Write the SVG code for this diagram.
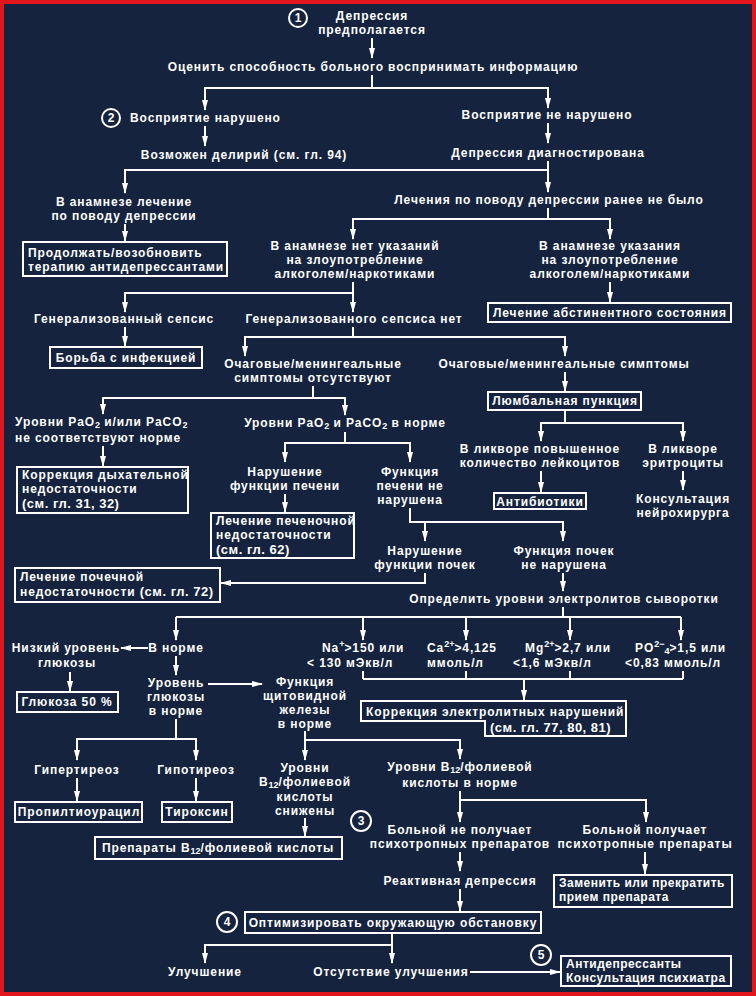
<svg xmlns="http://www.w3.org/2000/svg" width="756" height="996" viewBox="0 0 756 996">
<defs>
<marker id="ah" viewBox="0 -3 11 6" refX="10" refY="0" markerWidth="11" markerHeight="6" markerUnits="userSpaceOnUse" orient="auto"><path d="M0,-3 L11,0 L0,3 Z" fill="#fff"/></marker>
<style>
text{font-family:"Liberation Sans",Arial,sans-serif;font-weight:bold;font-size:12px;letter-spacing:0.9px;fill:#fff}
.m{text-anchor:middle}
.t{letter-spacing:0.5px}
.big{font-size:13px;letter-spacing:0.5px}
.s{font-size:9px;letter-spacing:0}
.c{font-size:12px;text-anchor:middle;letter-spacing:0}
rect,polygon{fill:#15233f;stroke:#fff;stroke-width:2}
circle{fill:none;stroke:#fff;stroke-width:2}
#connectors path{fill:none;stroke:#fff;stroke-width:2}
.a{marker-end:url(#ah)}
</style>
</defs>
<rect x="2" y="2" width="752" height="992" style="fill:#15233f;stroke:#e3161e;stroke-width:4"/>

<g id="connectors">
<path class="a" d="M372,38 V58"/>
<path class="a" d="M372,75 V88 H205 V110"/>
<path class="a" d="M372,88 H548 V108"/>
<path class="a" d="M205,126 V146"/>
<path class="a" d="M548,123 V143"/>
<path class="a" d="M548,161 V170 H125 V193"/>
<path class="a" d="M548,170 V192"/>
<path class="a" d="M125,224 V241"/>
<path class="a" d="M548,208 V219 H353 V239"/>
<path class="a" d="M548,219 H610 V239"/>
<path class="a" d="M610,282 V302"/>
<path class="a" d="M353,282 V293 H125 V312"/>
<path class="a" d="M353,293 V312"/>
<path class="a" d="M125,327 V346"/>
<path class="a" d="M353,327 V337 H245 V356"/>
<path class="a" d="M353,337 H565 V356"/>
<path class="a" d="M565,372 V391"/>
<path class="a" d="M565,410 V423 H541 V441"/>
<path class="a" d="M565,423 H683 V441"/>
<path class="a" d="M541,471 V492"/>
<path class="a" d="M683,471 V490"/>
<path class="a" d="M313,386 V398 H103 V414"/>
<path class="a" d="M313,398 H345 V415"/>
<path class="a" d="M103,446 V466"/>
<path class="a" d="M345,432 V443 H285 V462"/>
<path class="a" d="M345,443 H410 V462"/>
<path class="a" d="M285,494 V512"/>
<path class="a" d="M410,508 V522 H563 V541"/>
<path class="a" d="M425,522 V541"/>
<path class="a" d="M425,573 V583 H221"/>
<path class="a" d="M563,573 V591"/>
<path d="M563,607 V617"/>
<path d="M176,617 H681"/>
<path class="a" d="M176,617 V640"/>
<path class="a" d="M363,617 V640"/>
<path class="a" d="M466,617 V640"/>
<path class="a" d="M570,617 V640"/>
<path class="a" d="M681,617 V640"/>
<path class="a" d="M148,648 H121"/>
<path d="M363,671 V679 M466,671 V679 M570,671 V679 M683,671 V679 M363,679 H683"/>
<path class="a" d="M524,679 V700"/>
<path class="a" d="M176,656 V675"/>
<path class="a" d="M208,684 H262"/>
<path class="a" d="M70,672 V691"/>
<path class="a" d="M176,719 V739 H77 V760"/>
<path class="a" d="M176,739 H196 V760"/>
<path class="a" d="M77,778 V801"/>
<path class="a" d="M196,778 V801"/>
<path class="a" d="M305,731 V740 H460 V759"/>
<path class="a" d="M305,740 V760"/>
<path class="a" d="M305,818 V836"/>
<path class="a" d="M460,791 V800 H646 V822"/>
<path class="a" d="M460,800 V822"/>
<path class="a" d="M460,852 V871"/>
<path class="a" d="M460,889 V911"/>
<path class="a" d="M645,852 V874"/>
<path class="a" d="M392,933 V945 H205 V963"/>
<path class="a" d="M392,945 V963"/>
<path class="a" d="M470,972 H560"/>
</g>

<g id="n1"><circle cx="298" cy="18" r="9"/><text class="c" x="298" y="22">1</text>
<text class="m" x="372" y="20">Депрессия</text><text class="m" x="372" y="34">предполагается</text></g>
<g id="n2"><text class="m" x="373" y="71">Оценить способность больного воспринимать информацию</text></g>
<g id="n3"><circle cx="111" cy="118" r="9"/><text class="c" x="111" y="122">2</text>
<text x="130" y="122">Восприятие нарушено</text></g>
<g id="n4"><text class="m" x="547" y="119">Восприятие не нарушено</text></g>
<g id="n5"><text class="m" x="244" y="159">Возможен делирий (см. гл. 94)</text></g>
<g id="n6"><text class="m" x="548" y="157">Депрессия диагностирована</text></g>
<g id="n7"><text class="m" x="124" y="206">В анамнезе лечение</text><text class="m" x="124" y="220">по поводу депрессии</text></g>
<g id="n8"><text class="m" x="549" y="204">Лечения по поводу депрессии ранее не было</text></g>
<g id="b1"><rect x="23" y="242" width="204" height="34"/><text x="28" y="257">Продолжать/возобновить</text><text x="28" y="271">терапию антидепрессантами</text></g>
<g id="n9"><text class="m" x="355" y="250">В анамнезе нет указаний</text><text class="m" x="355" y="264">на злоупотребление</text><text class="m" x="355" y="278">алкоголем/наркотиками</text></g>
<g id="n10"><text class="m" x="610" y="250">В анамнезе указания</text><text class="m" x="610" y="264">на злоупотребление</text><text class="m" x="610" y="278">алкоголем/наркотиками</text></g>
<g id="b2"><rect x="488" y="303" width="243" height="19"/><text class="m" x="610" y="317">Лечение абстинентного состояния</text></g>
<g id="n11"><text class="m" x="124" y="323">Генерализованный сепсис</text></g>
<g id="n12"><text class="m" x="354" y="323">Генерализованного сепсиса нет</text></g>
<g id="b3"><rect x="50" y="347" width="152" height="21"/><text class="m" x="126" y="362">Борьба с инфекцией</text></g>
<g id="n13"><text class="m" x="313" y="368">Очаговые/менингеальные</text><text class="m" x="313" y="382">симптомы отсутствуют</text></g>
<g id="n14"><text class="m" x="564" y="368">Очаговые/менингеальные симптомы</text></g>
<g id="b4"><rect x="488" y="392" width="153" height="18"/><text class="m" x="565" y="405">Люмбальная пункция</text></g>
<g id="n15"><text class="m" x="540" y="453">В ликворе повышенное</text><text class="m" x="540" y="467">количество лейкоцитов</text></g>
<g id="n16"><text class="m" x="683" y="453">В ликворе</text><text class="m" x="683" y="467">эритроциты</text></g>
<g id="b5"><rect x="494" y="493" width="92" height="16"/><text class="m" x="540" y="506">Антибиотики</text></g>
<g id="n17"><text class="m" x="683" y="503">Консультация</text><text class="m" x="683" y="517">нейрохирурга</text></g>
<g id="n18"><text x="15" y="426">Уровни PaO<tspan class="s" dy="2">2</tspan><tspan dy="-2"> и/или PaCO</tspan><tspan class="s" dy="2">2</tspan></text><text x="15" y="442">не соответствуют норме</text></g>
<g id="n19"><text class="m" x="345" y="427">Уровни PaO<tspan class="s" dy="2">2</tspan><tspan dy="-2"> и PaCO</tspan><tspan class="s" dy="2">2</tspan><tspan dy="-2"> в норме</tspan></text></g>
<g id="b6"><rect x="17" y="467" width="171" height="46"/><text x="22" y="479">Коррекция дыхательной</text><text x="22" y="493">недостаточности</text><text class="big" x="22" y="508">(см. гл. 31, 32)</text></g>
<g id="n20"><text class="m" x="285" y="476">Нарушение</text><text class="m" x="285" y="490">функции печени</text></g>
<g id="n21"><text class="m" x="410" y="476">Функция</text><text class="m" x="410" y="490">печени не</text><text class="m" x="410" y="504">нарушена</text></g>
<g id="b7"><rect x="211" y="513" width="143" height="45"/><text x="216" y="525">Лечение печеночной</text><text x="216" y="539">недостаточности</text><text class="big" x="216" y="554">(см. гл. 62)</text></g>
<g id="n22"><text class="m" x="425" y="555">Нарушение</text><text class="m" x="425" y="569">функции почек</text></g>
<g id="n23"><text class="m" x="564" y="555">Функция почек</text><text class="m" x="564" y="569">не нарушена</text></g>
<g id="b8"><rect x="15" y="568" width="205" height="34"/><text x="20" y="581">Лечение почечной</text><text x="20" y="596">недостаточности <tspan class="big">(см. гл. 72)</tspan></text></g>
<g id="n24"><text class="m" x="564" y="603">Определить уровни электролитов сыворотки</text></g>
<g id="n25"><text class="m" x="66" y="652">Низкий уровень</text><text class="m" x="67" y="667">глюкозы</text></g>
<g id="n26"><text class="m" x="176" y="652">В норме</text></g>
<g id="n27"><text x="322" y="652">Na<tspan class="s" dy="-5">+</tspan><tspan dy="5">&gt;150 или</tspan></text><text x="307" y="667">&lt; 130 мЭкв/л</text></g>
<g id="n28"><text x="427" y="652">Ca<tspan class="s" dy="-5">2+</tspan><tspan dy="5">&gt;4,125</tspan></text><text x="427" y="667">ммоль/л</text></g>
<g id="n29"><text x="525" y="652">Mg<tspan class="s" dy="-5">2+</tspan><tspan dy="5">&gt;2,7 или</tspan></text><text x="513" y="667">&lt;1,6 мЭкв/л</text></g>
<g id="n30"><text x="635" y="652">PO<tspan class="s" dy="-5">2−</tspan><tspan class="s" dy="7">4</tspan><tspan dy="-2">&gt;1,5 или</tspan></text><text x="625" y="667">&lt;0,83 ммоль/л</text></g>
<g id="b9"><polygon points="361,701 626,701 626,736 485,736 485,721 361,721"/><text x="366" y="716">Коррекция электролитных нарушений</text><text class="big" x="490" y="732">(см. гл. 77, 80, 81)</text></g>
<g id="n31"><text class="m" x="176" y="687">Уровень</text><text class="m" x="176" y="701">глюкозы</text><text class="m" x="176" y="715">в норме</text></g>
<g id="n32"><text class="m" x="305" y="686">Функция</text><text class="m" x="305" y="700">щитовидной</text><text class="m" x="305" y="714">железы</text><text class="m" x="305" y="728">в норме</text></g>
<g id="b10"><rect x="17" y="692" width="101" height="20"/><text class="m" x="67" y="706">Глюкоза 50 %</text></g>
<g id="n33"><text class="m" x="77" y="774">Гипертиреоз</text></g>
<g id="n34"><text class="m" x="196" y="774">Гипотиреоз</text></g>
<g id="b11"><rect x="15" y="802" width="127" height="20"/><text class="m" x="79" y="816">Пропилтиоурацил</text></g>
<g id="b12"><rect x="162" y="802" width="70" height="20"/><text class="m" x="197" y="816">Тироксин</text></g>
<g id="n35"><text class="m" x="305" y="772">Уровни</text><text class="m" x="305" y="786">B<tspan class="s" dy="2">12</tspan><tspan dy="-2">/фолиевой</tspan></text><text class="m" x="305" y="801">кислоты</text><text class="m" x="305" y="815">снижены</text></g>
<g id="n36"><text class="m" x="460" y="771">Уровни B<tspan class="s" dy="2">12</tspan><tspan dy="-2">/фолиевой</tspan></text><text class="m" x="460" y="787">кислоты в норме</text></g>
<g id="b13"><rect x="95" y="837" width="247" height="22"/><text class="m" x="218" y="852">Препараты B<tspan class="s" dy="2">12</tspan><tspan dy="-2">/фолиевой кислоты</tspan></text></g>
<g id="n37"><circle cx="361" cy="821" r="10"/><text class="c" x="361" y="825">3</text>
<text class="m" x="460" y="834">Больной не получает</text><text class="m" x="460" y="848">психотропных препаратов</text></g>
<g id="n38"><text class="m" x="645" y="834">Больной получает</text><text class="m" x="645" y="848">психотропные препараты</text></g>
<g id="n39"><text class="m" x="460" y="885">Реактивная депрессия</text></g>
<g id="b14"><circle cx="227" cy="922" r="10"/><text class="c" x="227" y="926">4</text>
<rect x="245" y="912" width="296" height="21"/><text class="m" x="393" y="927">Оптимизировать окружающую обстановку</text></g>
<g id="b15"><rect x="554" y="875" width="178" height="32"/><text class="t" x="559" y="887">Заменить или прекратить</text><text class="t" x="559" y="901">прием препарата</text></g>
<g id="n40"><text class="m" x="205" y="976">Улучшение</text></g>
<g id="n41"><text class="m" x="391" y="976">Отсутствие улучшения</text></g>
<g id="b16"><circle cx="541" cy="955" r="10"/><text class="c" x="541" y="959">5</text>
<rect x="561" y="956" width="170" height="30"/><text class="t" x="566" y="968">Антидепрессанты</text><text class="t" x="566" y="982">Консультация психиатра</text></g>
</svg>
